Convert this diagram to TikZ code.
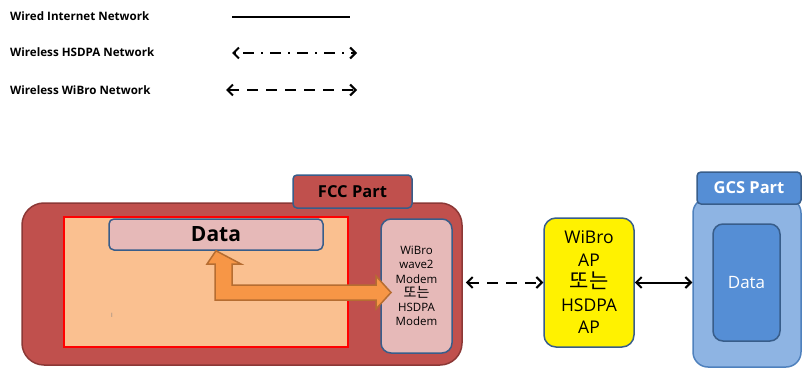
\documentclass[tikz,border=0pt]{standalone}
\usepackage{fontspec}
\setmainfont{Open Sans}
\newfontfamily\kr{Noto Sans CJK KR}
\usetikzlibrary{arrows.meta}
\definecolor{fccfill}{HTML}{C0504D}
\definecolor{fccline}{HTML}{8C3836}
\definecolor{boxline}{HTML}{385D8A}
\definecolor{workfill}{HTML}{FAC090}
\definecolor{pinkfill}{HTML}{E6B9B8}
\definecolor{arrowfill}{HTML}{F79646}
\definecolor{arrowline}{HTML}{B66D31}
\definecolor{gcsfill}{HTML}{8EB4E3}
\definecolor{gcsline}{HTML}{4F81BD}
\definecolor{gcsdark}{HTML}{558ED5}
\tikzset{
  legendtext/.style={anchor=west, font=\bfseries\fontsize{11.6}{13}\selectfont, inner sep=0pt},
  link/.style={line width=2pt, {Straight Barb[length=5.5pt,width=11pt]}-{Straight Barb[length=5.5pt,width=11pt]}},
  box/.style={draw=boxline, line width=1.5pt, inner sep=0pt},
  tabbox/.style={box, rounded corners=4pt, font=\bfseries\fontsize{16.5}{18}\selectfont},
}
\begin{document}
\begin{tikzpicture}[x=1pt,y=-1pt]
\useasboundingbox (0,0) rectangle (803,369);

% legend
\node[legendtext] (l1) at (10,16) {Wired Internet Network};
\node[legendtext] (l2) at (10,52) {Wireless HSDPA Network};
\node[legendtext] (l3) at (10,90) {Wireless WiBro Network};
\coordinate (w1a) at (232,17); \coordinate (w1b) at (350,17);
\coordinate (w2a) at (232,53); \coordinate (w2b) at (357,53);
\coordinate (w3a) at (226,90); \coordinate (w3b) at (357,90);
\draw[line width=2pt] (w1a) -- (w1b);
\draw[link, dash pattern=on 2pt off 7pt on 11pt off 7pt] (w2a) -- (w2b);
\draw[link, dash pattern=on 11pt off 8pt] (w3a) -- (w3b);

% FCC part
\node[draw=fccline, fill=fccfill, line width=1.5pt, rounded corners=22pt,
      minimum width=440pt, minimum height=162pt] (fcc) at (242,284) {};
\node[tabbox, fill=fccfill, minimum width=119pt, minimum height=33pt] (fcctab) at (352.5,191.5) {FCC Part};
\node[draw=red, fill=workfill, line width=2.5pt, minimum width=284pt, minimum height=130pt] (work) at (206,282) {};
\node[box, fill=pinkfill, rounded corners=5pt, minimum width=214pt, minimum height=31pt,
      font=\bfseries\fontsize{21}{22}\selectfont] (data) at (216,234.5) {Data};
\node[box, fill=pinkfill, rounded corners=10pt, minimum width=71pt, minimum height=134pt,
      align=center, font=\fontsize{11.5}{14.2}\selectfont] (modem) at (416.5,286)
      {WiBro\\wave2\\Modem\\{\kr\fontsize{14}{14.2}\selectfont 또는}\\HSDPA\\Modem};
\node[text=gray, font=\fontsize{6}{6}\selectfont, inner sep=0pt] (mark) at (112,315) {I};

% data path inside the FCC
\draw[draw=arrowline, fill=arrowfill, line width=1.5pt, line join=miter]
  (data.south) -- (241,264) -- (232,264) -- (232,285) -- (376,285) -- (376,276)
  -- (391,292.5) -- (376,309) -- (376,300) -- (215,300) -- (215,264)
  -- (207,264) -- cycle;

% access point
\node[box, fill=yellow, rounded corners=12pt, minimum width=90pt, minimum height=129pt,
      align=center, font=\fontsize{17.5}{22.5}\selectfont] (ap) at (589,282.5)
      {WiBro\\AP\\{\kr\fontsize{21}{22.5}\selectfont 또는}\\HSDPA\\AP};

% GCS part
\node[draw=gcsline, fill=gcsfill, line width=1.5pt, rounded corners=15pt,
      minimum width=108pt, minimum height=169pt] (gcs) at (747,282.5) {};
\node[tabbox, fill=gcsdark, text=white, minimum width=104pt, minimum height=32pt] (gcstab) at (749,188) {GCS Part};
\node[box, fill=gcsdark, rounded corners=10pt, minimum width=67pt, minimum height=117pt,
      text=white, font=\fontsize{17}{18}\selectfont] (gcsdata) at (746.5,282.5) {Data};

% links
\draw[link, dash pattern=on 11pt off 8pt, shorten <=3pt] (ap.west -| fcc.east) -- (ap.west);
\draw[link] (ap.east) -- (gcs.west |- ap.east);
\end{tikzpicture}
\end{document}
